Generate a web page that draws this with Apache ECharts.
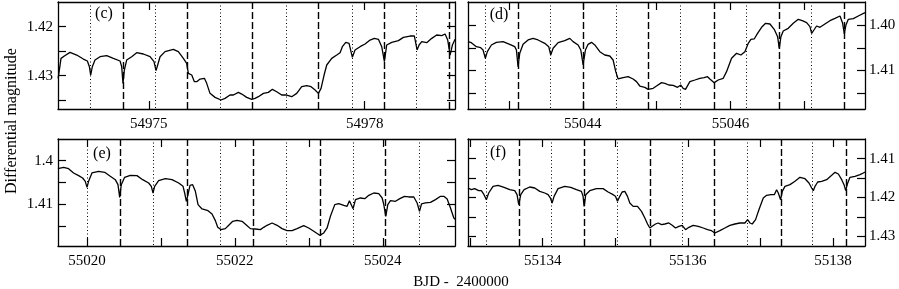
<!DOCTYPE html>
<html><head><meta charset="utf-8">
<script src="https://cdn.jsdelivr.net/npm/echarts@6/dist/echarts.min.js"></script>
<style>html,body{margin:0;padding:0;background:#fff}#c{width:899px;height:289px}</style>
</head><body><div id="c"></div>
<script>
// ---- Data: [BJD - 2400000, differential magnitude] ----
const panelC = [[54973.740,1.43057],[54973.780,1.42648],[54973.826,1.42600],[54973.905,1.42525],[54973.998,1.42580],[54974.090,1.42662],[54974.146,1.42702],[54974.174,1.42818],[54974.192,1.42989],[54974.215,1.42818],[54974.252,1.42682],[54974.322,1.42614],[54974.415,1.42593],[54974.507,1.42648],[54974.600,1.42702],[54974.623,1.42818],[54974.641,1.43159],[54974.660,1.42887],[54974.692,1.42682],[54974.762,1.42614],[54974.831,1.42532],[54974.924,1.42559],[54975.017,1.42614],[54975.072,1.42716],[54975.100,1.42900],[54975.123,1.42784],[54975.156,1.42614],[54975.225,1.42511],[54975.341,1.42464],[54975.410,1.42511],[54975.480,1.42648],[54975.526,1.42750],[54975.549,1.42955],[54975.568,1.42921],[54975.596,1.42989],[54975.633,1.43125],[54975.665,1.43125],[54975.712,1.43071],[54975.772,1.43057],[54975.804,1.43159],[54975.850,1.43364],[54975.920,1.43446],[54976.003,1.43500],[54976.059,1.43466],[54976.128,1.43398],[54976.175,1.43398],[54976.244,1.43344],[54976.291,1.43378],[54976.360,1.43446],[54976.430,1.43487],[54976.476,1.43466],[54976.522,1.43432],[54976.592,1.43364],[54976.661,1.43344],[54976.717,1.43282],[54976.777,1.43330],[54976.846,1.43398],[54976.916,1.43398],[54976.985,1.43432],[54977.055,1.43364],[54977.124,1.43228],[54977.194,1.43207],[54977.254,1.43228],[54977.310,1.43296],[54977.356,1.43364],[54977.393,1.43262],[54977.435,1.42989],[54977.472,1.42784],[54977.541,1.42648],[54977.611,1.42580],[54977.657,1.42532],[54977.689,1.42409],[54977.736,1.42321],[54977.782,1.42341],[54977.828,1.42627],[54977.865,1.42477],[54977.935,1.42409],[54978.004,1.42355],[54978.074,1.42273],[54978.134,1.42239],[54978.190,1.42259],[54978.236,1.42409],[54978.273,1.42716],[54978.305,1.42375],[54978.375,1.42321],[54978.468,1.42286],[54978.537,1.42218],[54978.630,1.42191],[54978.690,1.42191],[54978.727,1.42477],[54978.755,1.42375],[54978.792,1.42307],[54978.861,1.42327],[54978.931,1.42239],[54979.000,1.42170],[54979.070,1.42184],[54979.116,1.42150],[54979.153,1.42273],[54979.186,1.42580],[54979.218,1.42375],[54979.255,1.42259]];
const panelD = [[55042.445,1.40366],[55042.490,1.40388],[55042.558,1.40476],[55042.617,1.40498],[55042.649,1.40549],[55042.680,1.40732],[55042.707,1.40586],[55042.762,1.40439],[55042.829,1.40381],[55042.920,1.40366],[55043.010,1.40425],[55043.078,1.40476],[55043.101,1.40549],[55043.123,1.40915],[55043.146,1.40622],[55043.191,1.40425],[55043.259,1.40329],[55043.327,1.40293],[55043.394,1.40329],[55043.485,1.40403],[55043.539,1.40476],[55043.566,1.40659],[55043.598,1.40512],[55043.666,1.40388],[55043.756,1.40344],[55043.824,1.40293],[55043.869,1.40366],[55043.937,1.40439],[55043.973,1.40549],[55044.005,1.40878],[55044.036,1.40549],[55044.072,1.40425],[55044.118,1.40381],[55044.163,1.40439],[55044.231,1.40586],[55044.298,1.40659],[55044.366,1.40681],[55044.411,1.40769],[55044.447,1.41025],[55044.479,1.41186],[55044.547,1.41157],[55044.615,1.41135],[55044.682,1.41186],[55044.728,1.41244],[55044.773,1.41340],[55044.841,1.41369],[55044.886,1.41413],[55044.954,1.41391],[55044.999,1.41340],[55045.067,1.41266],[55045.112,1.41281],[55045.166,1.41318],[55045.225,1.41325],[55045.284,1.41369],[55045.329,1.41318],[55045.360,1.41391],[55045.392,1.41413],[55045.451,1.41244],[55045.519,1.41208],[55045.586,1.41171],[55045.645,1.41157],[55045.690,1.41135],[55045.722,1.41186],[55045.745,1.41208],[55045.781,1.41266],[55045.835,1.41208],[55045.903,1.41171],[55045.948,1.41025],[55046.016,1.40732],[55046.084,1.40622],[55046.142,1.40659],[55046.197,1.40586],[55046.242,1.40403],[55046.278,1.40315],[55046.323,1.40307],[55046.368,1.40183],[55046.423,1.40051],[55046.477,1.39963],[55046.536,1.39978],[55046.594,1.40095],[55046.640,1.40256],[55046.662,1.40512],[55046.685,1.40256],[55046.716,1.40132],[55046.784,1.40073],[55046.852,1.39963],[55046.920,1.39876],[55046.974,1.39905],[55047.033,1.39949],[55047.078,1.40037],[55047.101,1.40183],[55047.132,1.40110],[55047.168,1.40022],[55047.214,1.40051],[55047.281,1.39978],[55047.349,1.39905],[55047.417,1.39854],[55047.485,1.39802],[55047.521,1.39963],[55047.544,1.40198],[55047.566,1.40000],[55047.598,1.39876],[55047.666,1.39861],[55047.733,1.39802],[55047.824,1.39729]];
const panelE = [[55019.607,1.40182],[55019.684,1.40152],[55019.751,1.40182],[55019.819,1.40281],[55019.887,1.40342],[55019.941,1.40396],[55019.977,1.40472],[55020.000,1.40609],[55020.022,1.40472],[55020.067,1.40281],[55020.157,1.40243],[55020.239,1.40266],[55020.315,1.40357],[55020.383,1.40434],[55020.419,1.40548],[55020.442,1.40838],[55020.464,1.40548],[55020.509,1.40380],[55020.586,1.40335],[55020.676,1.40342],[55020.753,1.40434],[55020.834,1.40510],[55020.870,1.40586],[55020.893,1.40739],[55020.915,1.40586],[55020.969,1.40457],[55021.060,1.40411],[55021.150,1.40434],[55021.240,1.40510],[55021.299,1.40586],[55021.321,1.40739],[55021.344,1.40929],[55021.366,1.40777],[55021.393,1.40563],[55021.429,1.40548],[55021.466,1.40700],[55021.502,1.41005],[55021.556,1.41104],[55021.637,1.41143],[55021.691,1.41219],[55021.736,1.41371],[55021.768,1.41524],[55021.813,1.41577],[55021.871,1.41554],[55021.917,1.41478],[55021.971,1.41386],[55022.029,1.41364],[55022.097,1.41386],[55022.151,1.41463],[55022.210,1.41554],[55022.277,1.41562],[55022.345,1.41577],[55022.390,1.41524],[55022.435,1.41478],[55022.503,1.41425],[55022.571,1.41478],[55022.638,1.41554],[55022.706,1.41600],[55022.774,1.41600],[55022.841,1.41554],[55022.931,1.41486],[55022.999,1.41539],[55023.067,1.41615],[55023.148,1.41707],[55023.202,1.41653],[55023.247,1.41539],[55023.292,1.41272],[55023.351,1.41005],[55023.405,1.40982],[55023.473,1.41021],[55023.518,1.41043],[55023.549,1.40914],[55023.576,1.40944],[55023.599,1.41097],[55023.631,1.40891],[55023.698,1.40853],[55023.757,1.40868],[55023.811,1.40792],[55023.879,1.40739],[55023.946,1.40754],[55023.992,1.40853],[55024.014,1.41005],[55024.041,1.41272],[55024.068,1.41005],[55024.104,1.40914],[55024.172,1.40929],[55024.231,1.40868],[55024.294,1.40815],[55024.352,1.40830],[55024.420,1.40830],[55024.465,1.40967],[55024.497,1.41158],[55024.524,1.40990],[55024.578,1.40967],[55024.645,1.40952],[55024.713,1.40891],[55024.781,1.40815],[55024.826,1.40815],[55024.871,1.40876],[55024.916,1.41082],[55024.961,1.41310],[55024.984,1.41348]];
const panelF = [[55132.970,1.41755],[55133.016,1.41798],[55133.062,1.41772],[55133.117,1.41824],[55133.154,1.41824],[55133.191,1.41927],[55133.223,1.42056],[55133.255,1.41884],[55133.315,1.41712],[55133.384,1.41686],[55133.467,1.41738],[55133.545,1.41798],[55133.614,1.41824],[55133.646,1.41927],[55133.669,1.42185],[55133.697,1.41927],[55133.743,1.41798],[55133.821,1.41729],[55133.890,1.41755],[55133.959,1.41841],[55134.028,1.41884],[55134.074,1.41927],[55134.106,1.42013],[55134.129,1.42142],[55134.156,1.41970],[55134.211,1.41772],[55134.303,1.41712],[55134.386,1.41738],[55134.464,1.41798],[55134.533,1.41841],[55134.556,1.41970],[55134.570,1.42228],[55134.593,1.41927],[55134.648,1.41824],[55134.740,1.41772],[55134.832,1.41772],[55134.901,1.41858],[55134.970,1.41927],[55135.002,1.41970],[55135.030,1.42099],[55135.062,1.41970],[55135.094,1.41858],[55135.131,1.41841],[55135.168,1.41970],[55135.200,1.42142],[55135.246,1.42228],[55135.306,1.42228],[55135.361,1.42357],[55135.407,1.42528],[55135.444,1.42683],[55135.476,1.42786],[55135.508,1.42743],[55135.554,1.42683],[55135.591,1.42657],[55135.637,1.42700],[55135.683,1.42683],[55135.738,1.42657],[55135.784,1.42717],[55135.830,1.42786],[55135.876,1.42743],[55135.922,1.42717],[55135.968,1.42829],[55136.014,1.42769],[55136.074,1.42717],[55136.143,1.42743],[55136.212,1.42786],[55136.271,1.42829],[55136.326,1.42855],[55136.372,1.42915],[55136.441,1.42855],[55136.510,1.42786],[55136.579,1.42717],[55136.648,1.42683],[55136.717,1.42657],[55136.786,1.42657],[55136.823,1.42571],[55136.855,1.42657],[55136.887,1.42683],[55136.933,1.42571],[55136.979,1.42314],[55137.039,1.42013],[55137.085,1.41944],[55137.145,1.41927],[55137.191,1.41927],[55137.223,1.41798],[55137.246,1.41884],[55137.278,1.42056],[55137.301,1.41841],[55137.338,1.41712],[55137.407,1.41669],[55137.476,1.41583],[55137.545,1.41480],[55137.614,1.41515],[55137.669,1.41626],[55137.706,1.41755],[55137.729,1.41824],[55137.752,1.41712],[55137.789,1.41600],[55137.844,1.41583],[55137.913,1.41540],[55137.982,1.41429],[55138.028,1.41351],[55138.074,1.41394],[55138.120,1.41540],[55138.152,1.41669],[55138.175,1.41824],[55138.198,1.41652],[55138.234,1.41480],[55138.303,1.41454],[55138.372,1.41412],[55138.418,1.41369],[55138.441,1.41343]];

// Eclipse times (dashed = primary, dotted = secondary)
const cPrimary = [54974.637, 54975.541, 54976.444, 54977.355, 54978.272, 54979.185];
const cSecondary = [54974.183, 54975.086, 54975.993, 54976.906, 54977.819, 54978.722];
const dPrimary = [55043.123, 55044.004, 55044.885, 55045.776, 55046.662, 55047.543];
const dSecondary = [55042.681, 55043.562, 55044.447, 55045.325, 55046.220, 55047.101];
const ePrimary = [55020.451, 55021.361, 55022.254, 55023.148, 55024.037];
const eSecondary = [55020.000, 55020.901, 55021.804, 55022.697, 55023.600, 55024.501];
const fPrimary = [55133.669, 55134.570, 55135.476, 55136.372, 55137.279, 55138.175];
const fSecondary = [55133.223, 55134.120, 55135.017, 55135.921, 55136.823, 55137.720];

// Ticks and tick labels
const cXTicks = [54975, 54978];
const cXLabels = [54975, 54978];
const dXTicks = [55043, 55044, 55045, 55046, 55047];
const dXLabels = [55044, 55046];
const eXTicks = [55020, 55021, 55022, 55023, 55024];
const eXLabels = [55020, 55022, 55024];
const fXTicks = [55133, 55134, 55135, 55136, 55137, 55138];
const fXLabels = [55134, 55136, 55138];
const cYTicks = [1.42, 1.425, 1.43, 1.435];
const cYLabels = [1.42, 1.43];
const dYTicks = [1.40, 1.405, 1.41, 1.415];
const dYLabels = [1.40, 1.41];
const eYTicks = [1.40, 1.405, 1.41, 1.415];
const eYLabels = [1.40, 1.41];
const fYTicks = [1.41, 1.415, 1.42, 1.425, 1.43];
const fYLabels = [1.41, 1.42, 1.43];
const panelNames = ['(c)', '(d)', '(e)', '(f)'];

const FONT = '"Liberation Serif", "DejaVu Serif", serif';
const chart = echarts.init(document.getElementById('c'), null, {renderer: 'canvas'});

const panels = [
  {data: panelC, prim: cPrimary, sec: cSecondary, xMin: 54973.738, xMax: 54979.254, xT: cXTicks, xL: cXLabels,
   yMin: 1.41495, yMax: 1.43684, yT: cYTicks, yL: cYLabels, side: 'left', fmt: v => v.toFixed(2),
   grid: {left: 58, top: 2, width: 397, height: 107}, name: panelNames[0], lx: 104, ly: 14},
  {data: panelD, prim: dPrimary, sec: dSecondary, xMin: 55042.445, xMax: 55047.824, xT: dXTicks, xL: dXLabels,
   yMin: 1.39495, yMax: 1.41845, yT: dYTicks, yL: dYLabels, side: 'right', fmt: v => v.toFixed(2),
   grid: {left: 468, top: 2, width: 397, height: 107}, name: panelNames[1], lx: 499, ly: 15},
  {data: panelE, prim: ePrimary, sec: eSecondary, xMin: 55019.608, xMax: 55024.977, xT: eXTicks, xL: eXLabels,
   yMin: 1.39504, yMax: 1.41951, yT: eYTicks, yL: eYLabels, side: 'left', fmt: v => String(+v.toFixed(3)),
   grid: {left: 58, top: 139, width: 397, height: 107}, name: panelNames[2], lx: 102, ly: 154},
  {data: panelF, prim: fPrimary, sec: fSecondary, xMin: 55132.970, xMax: 55138.441, xT: fXTicks, xL: fXLabels,
   yMin: 1.40492, yMax: 1.4325, yT: fYTicks, yL: fYLabels, side: 'right', fmt: v => v.toFixed(2),
   grid: {left: 468, top: 139, width: 397, height: 107}, name: panelNames[3], lx: 498, ly: 153}
];

const axLine = {show: true, onZero: false, lineStyle: {color: '#000', width: 1.3}};
const grids = [], xAxes = [], yAxes = [], series = [], graphics = [];
panels.forEach((p, i) => {
  grids.push(Object.assign({containLabel: false}, p.grid));
  const xBase = {gridIndex: i, type: 'value', min: p.xMin, max: p.xMax, axisLine: axLine, splitLine: {show: false}};
  xAxes.push(Object.assign({}, xBase, {position: 'bottom',
    axisTick: {show: true, inside: true, length: 8, customValues: p.xT, lineStyle: {color: '#000', width: 1.2}},
    axisLabel: {show: true, customValues: p.xL, formatter: v => String(Math.round(v)), color: '#000',
      fontFamily: FONT, fontSize: 15, margin: 8}}));
  xAxes.push(Object.assign({}, xBase, {position: 'top',
    axisTick: {show: true, inside: true, length: 8, customValues: p.xT, lineStyle: {color: '#000', width: 1.2}},
    axisLabel: {show: false}}));
  const yBase = {gridIndex: i, type: 'value', inverse: true, min: p.yMin, max: p.yMax, axisLine: axLine, splitLine: {show: false}};
  const other = p.side === 'left' ? 'right' : 'left';
  yAxes.push(Object.assign({}, yBase, {position: p.side,
    axisTick: {show: true, inside: true, length: 8, customValues: p.yT, lineStyle: {color: '#000', width: 1.2}},
    axisLabel: {show: true, customValues: p.yL, formatter: p.fmt, color: '#000', fontFamily: FONT, fontSize: 15,
      margin: p.side === 'left' ? 5 : 4}}));
  yAxes.push(Object.assign({}, yBase, {position: other,
    axisTick: {show: true, inside: true, length: 8, customValues: p.yT, lineStyle: {color: '#000', width: 1.2}},
    axisLabel: {show: false}}));
  series.push({
    type: 'line', xAxisIndex: 2 * i, yAxisIndex: 2 * i, data: p.data, showSymbol: false, symbol: 'none',
    lineStyle: {color: '#000', width: 1.3}, animation: false, clip: true, z: 3,
    markLine: {
      silent: true, symbol: ['none', 'none'], label: {show: false}, animation: false,
      data: p.prim.map(v => ({xAxis: v, lineStyle: {type: [7, 3], width: 1.4, color: '#000'}}))
        .concat(p.sec.map(v => ({xAxis: v, lineStyle: {type: [1, 2.5], width: 1, color: '#000'}})))
    }
  });
  graphics.push({type: 'text', x: p.lx, y: p.ly, z: 10,
    style: {text: p.name, font: '16px ' + FONT, fill: '#000', textAlign: 'center', textVerticalAlign: 'middle'}});
});
graphics.push({type: 'text', x: 12, y: 121, rotation: Math.PI / 2, z: 10,
  style: {text: 'Differential magnitude', font: '16px ' + FONT, fill: '#000', textAlign: 'center', textVerticalAlign: 'middle'}});
graphics.push({type: 'text', x: 461, y: 282, z: 10,
  style: {text: 'BJD -  2400000', font: '15px ' + FONT, fill: '#000', textAlign: 'center', textVerticalAlign: 'middle'}});

chart.setOption({
  animation: false, backgroundColor: '#fff',
  grid: grids, xAxis: xAxes, yAxis: yAxes, series: series, graphic: graphics
});
</script></body></html>
